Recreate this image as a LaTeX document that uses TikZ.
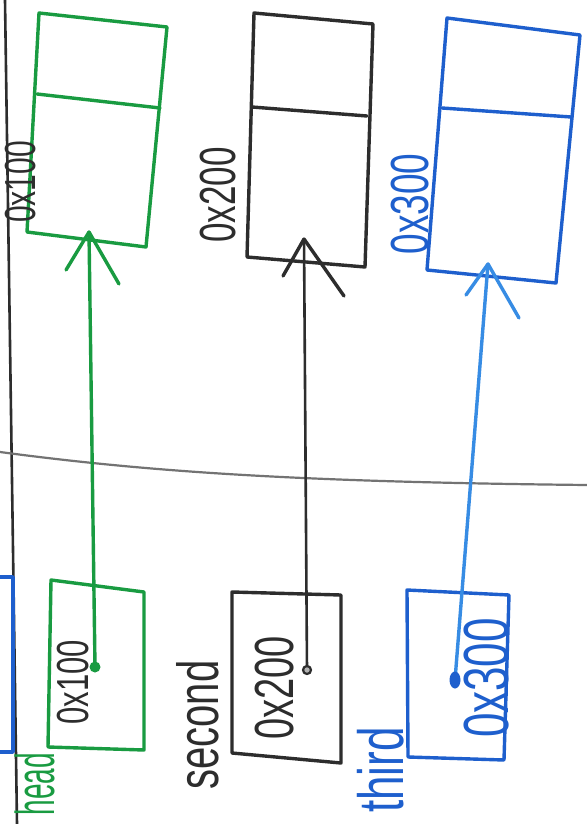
\documentclass[tikz,border=0pt]{standalone}
\usepackage{fontspec}
\setmainfont{Liberation Sans}
\definecolor{gink}{RGB}{25,155,65}
\definecolor{bink}{RGB}{30,95,205}
\definecolor{lbink}{RGB}{55,140,228}
\definecolor{kink}{RGB}{45,45,45}
\definecolor{rule}{RGB}{115,115,115}
\tikzset{
  pen/.style={line width=1.7pt, line join=round, line cap=round},
  lbl/.style={inner sep=0pt, rotate=90, yscale=1.45},
}
\newcommand{\fsz}[1]{\fontsize{#1}{#1}\selectfont}
\begin{document}
\begin{tikzpicture}[x=0.5pt,y=-0.5pt]
\fill[white] (0,0) rectangle (587,824);
\useasboundingbox (0,0) rectangle (587,824);

% rules
\draw[kink, line width=1.3pt] (5,0) -- (17,824);
\draw[rule, line width=1.1pt] (0,452) .. controls (150,472) and (300,482) .. (587,485);

% left partial blue box
\draw[bink, pen] (0,577) -- (13,577) -- (13,752) -- (0,752);

% ---- top boxes (memory) ----
\draw[gink, pen] (39,13) -- (167,27) -- (146,247) -- (27,232) -- cycle;
\draw[gink, pen] (37,94) -- (160,108);
\draw[kink, pen] (254,13) -- (373,24) -- (365,267) -- (247,257) -- cycle;
\draw[kink, pen] (252,107) -- (367,116);
\draw[bink, pen] (447,18) -- (580,35) -- (556,283) -- (427,270) -- cycle;
\draw[bink, pen] (442,108) -- (571,117);

\node[lbl, kink, font=\fsz{15}] (a1) at (21,182) {0x100};
\node[lbl, kink, font=\fsz{17.5}] (a2) at (218,195) {0x200};
\node[lbl, bink, font=\fsz{18.5}] (a3) at (410,204) {0x300};

% ---- bottom boxes (variables) ----
\draw[gink, pen] (51,580) -- (144,592) -- (144,750) -- (48,747) -- cycle;
\draw[kink, pen] (232,592) -- (341,595) -- (341,763) -- (232,753) -- cycle;
\draw[bink, pen] (407,590) -- (509,595) -- (504,760) -- (408,757) -- cycle;

\node[lbl, kink, font=\fsz{15.5}] (v1) at (73,682) {0x100};
\node[lbl, kink, font=\fsz{19}] (v2) at (275,688) {0x200};
\node[lbl, bink, font=\fsz{22}] (v3) at (487,678) {0x300};

\node[lbl, gink, font=\fsz{14}, yscale=1.35] (n1) at (35,784) {head};
\node[lbl, kink, font=\fsz{20}] (n2) at (198,725) {second};
\node[lbl, bink, font=\fsz{22}] (n3) at (381,770) {third};

% ---- pointers ----
\coordinate (g0) at (95,667);  \coordinate (g1) at (89,232);
\coordinate (k0) at (307,670); \coordinate (k1) at (304,239);
\coordinate (b0) at (455,680); \coordinate (b1) at (488,264);

\draw[gink, pen] (g0) -- (g1);
\draw[gink, pen] (g1) -- (66,270) (g1) -- (119,284);
\fill[gink] (g0) circle (5.5);

\draw[kink, pen, line width=1.3pt] (k0) -- (k1);
\draw[kink, pen] (k1) -- (283,276) (k1) -- (344,296);
\draw[kink, line width=1.1pt, fill=gray!60] (k0) circle (4);

\draw[lbink, pen] (b0) -- (b1);
\draw[lbink, pen] (b1) -- (466,295) (b1) -- (519,318);
\fill[bink] (b0) ellipse (5.5 and 8.5);
\end{tikzpicture}
\end{document}
